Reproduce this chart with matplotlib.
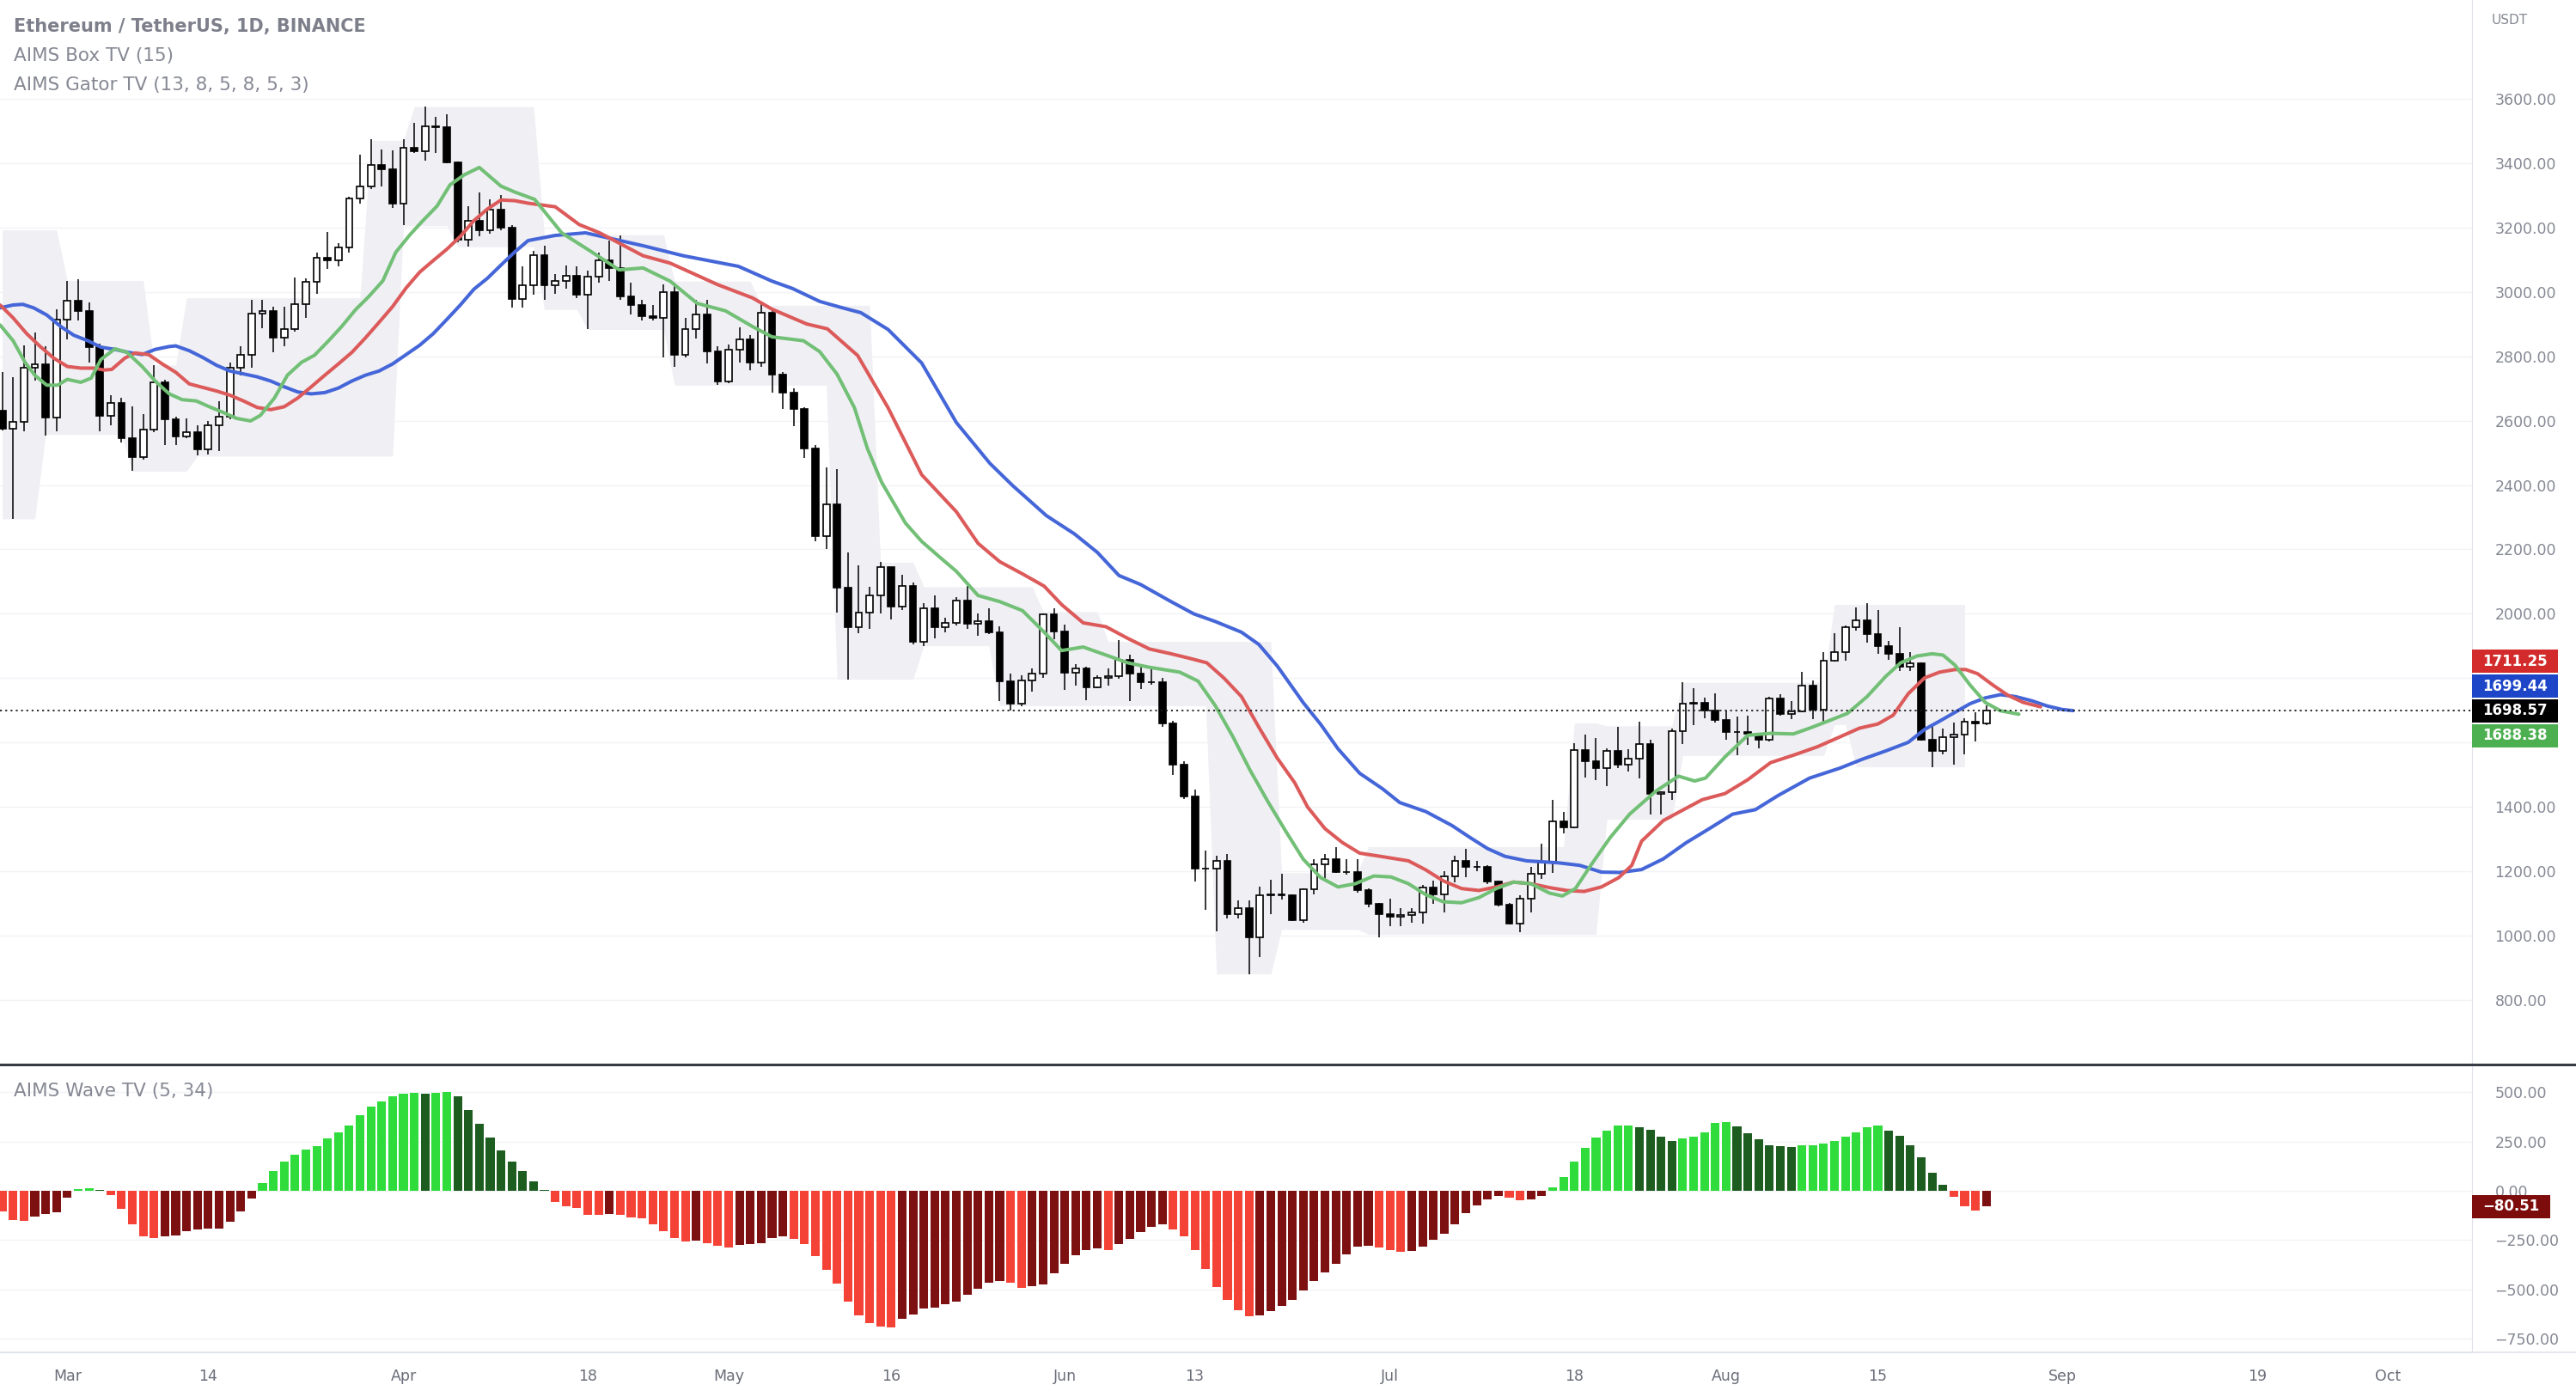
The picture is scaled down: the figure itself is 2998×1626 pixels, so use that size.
import numpy as np
import pandas as pd
import matplotlib
matplotlib.use("Agg")
import matplotlib.pyplot as plt
import matplotlib.transforms as mtransforms
from matplotlib.patches import Rectangle
from matplotlib.lines import Line2D

plt.rcParams['font.family'] = ['DejaVu Sans']

# ______________________________________________________
# _______________________ DATA _________________________

start_date = "2022-02-23"
end_date = "2022-08-25"

opens = [2630, 2576, 2597, 2763, 2775, 2609, 2914, 2972, 2941, 2828, 2616, 2656, 2545, 2487, 2572, 2719, 2603, 2550,
         2563, 2510, 2585, 2612, 2763, 2803, 2932, 2941, 2857, 2883, 2961, 3030, 3106, 3097, 3139, 3290, 3326, 3395,
         3381, 3274, 3448, 3436, 3515, 3510, 3401, 3163, 3221, 3190, 3255, 3199, 2977, 3021, 3114, 3019, 3033, 3050,
         2990, 3048, 3097, 3073, 2985, 2960, 2925, 2920, 2998, 2805, 2883, 2929, 2814, 2721, 2819, 2851, 2779, 2935,
         2744, 2687, 2635, 2513, 2240, 2340, 2080, 1959, 2005, 2057, 2144, 2022, 2086, 1913, 2017, 1959, 1972, 2040,
         1968, 1977, 1942, 1791, 1721, 1792, 1814, 1999, 1944, 1816, 1830, 1773, 1801, 1806, 1857, 1814, 1789, 1789,
         1661, 1532, 1434, 1209, 1208, 1234, 1068, 1085, 996, 1127, 1128, 1125, 1049, 1144, 1223, 1239, 1198, 1198,
         1141, 1099, 1068, 1060, 1066, 1072, 1149, 1130, 1185, 1234, 1213, 1215, 1168, 1096, 1038, 1115, 1192, 1230,
         1356, 1337, 1577, 1543, 1521, 1574, 1533, 1550, 1596, 1442, 1447, 1636, 1721, 1724, 1699, 1670, 1632, 1632,
         1627, 1608, 1738, 1690, 1698, 1777, 1703, 1854, 1881, 1958, 1981, 1937, 1901, 1876, 1836, 1846, 1610, 1574,
         1617, 1626, 1665, 1661]
highs = [2750, 2736, 2834, 2874, 2830, 2945, 3034, 3039, 2968, 2840, 2679, 2670, 2643, 2620, 2772, 2728, 2612, 2608,
         2585, 2599, 2661, 2781, 2830, 2976, 2976, 2954, 2954, 3045, 3042, 3123, 3187, 3150, 3294, 3426, 3475, 3442,
         3439, 3475, 3525, 3575, 3543, 3550, 3405, 3266, 3308, 3288, 3301, 3208, 3079, 3128, 3143, 3056, 3082, 3079,
         3065, 3123, 3160, 3174, 3027, 2975, 2958, 3022, 3027, 2918, 2975, 2975, 2831, 2837, 2889, 2866, 2964, 2946,
         2750, 2699, 2641, 2525, 2455, 2450, 2190, 2150, 2085, 2161, 2144, 2120, 2097, 2034, 2057, 1988, 2051, 2086,
         2000, 2016, 1960, 1814, 1809, 1830, 2002, 2016, 1967, 1843, 1835, 1810, 1830, 1918, 1873, 1840, 1835, 1801,
         1667, 1543, 1454, 1266, 1249, 1253, 1111, 1110, 1154, 1173, 1192, 1130, 1148, 1238, 1255, 1276, 1237, 1237,
         1148, 1103, 1115, 1086, 1087, 1159, 1172, 1201, 1248, 1269, 1234, 1220, 1172, 1101, 1126, 1214, 1287, 1423,
         1386, 1598, 1625, 1614, 1582, 1650, 1580, 1665, 1610, 1450, 1643, 1787, 1768, 1741, 1754, 1700, 1681, 1685,
         1628, 1743, 1750, 1730, 1819, 1792, 1881, 1940, 1963, 2019, 2032, 2012, 1916, 1958, 1881, 1850, 1658, 1645,
         1663, 1676, 1694, 1716]
lows = [2570, 2296, 2567, 2723, 2554, 2567, 2852, 2910, 2781, 2567, 2585, 2532, 2443, 2478, 2564, 2523, 2523, 2545,
        2492, 2496, 2505, 2603, 2741, 2763, 2888, 2812, 2830, 2875, 2919, 2994, 3070, 3079, 3123, 3274, 3320, 3328,
        3261, 3208, 3430, 3408, 3430, 3399, 3154, 3141, 3172, 3181, 3190, 2952, 2952, 2992, 2975, 2993, 3010, 2981,
        2883, 3027, 3033, 2975, 2929, 2912, 2912, 2796, 2767, 2796, 2854, 2777, 2710, 2716, 2779, 2756, 2767, 2687,
        2635, 2583, 2484, 2225, 2202, 2005, 1797, 1941, 1953, 2000, 1982, 2011, 1905, 1901, 1924, 1942, 1965, 1953,
        1931, 1936, 1729, 1700, 1714, 1758, 1800, 1920, 1763, 1777, 1733, 1768, 1777, 1799, 1728, 1766, 1780, 1650,
        1499, 1424, 1168, 1082, 1015, 1053, 1053, 881, 934, 1068, 1113, 1046, 1041, 1129, 1177, 1195, 1189, 1135,
        1090, 995, 1029, 1030, 1040, 1038, 1100, 1072, 1167, 1181, 1201, 1160, 1092, 1035, 1011, 1073, 1177, 1196,
        1318, 1334, 1492, 1485, 1466, 1522, 1510, 1489, 1378, 1378, 1423, 1596, 1654, 1676, 1663, 1610, 1561, 1592,
        1583, 1605, 1685, 1672, 1694, 1672, 1663, 1851, 1854, 1949, 1910, 1876, 1857, 1823, 1823, 1607, 1525, 1563,
        1531, 1565, 1605, 1654]
closes = [2576, 2597, 2763, 2775, 2609, 2914, 2972, 2941, 2828, 2616, 2656, 2545, 2487, 2572, 2719, 2603, 2550, 2563,
          2510, 2585, 2612, 2763, 2803, 2932, 2941, 2857, 2883, 2961, 3030, 3106, 3097, 3139, 3290, 3326, 3395, 3381,
          3274, 3448, 3436, 3515, 3510, 3401, 3163, 3221, 3190, 3255, 3199, 2977, 3021, 3114, 3019, 3033, 3050, 2990,
          3048, 3097, 3073, 2985, 2960, 2925, 2920, 2998, 2805, 2883, 2929, 2814, 2721, 2819, 2851, 2779, 2935, 2744,
          2687, 2635, 2513, 2240, 2340, 2080, 1959, 2005, 2057, 2144, 2022, 2086, 1913, 2017, 1959, 1972, 2040, 1968,
          1977, 1942, 1791, 1721, 1792, 1814, 1999, 1944, 1816, 1830, 1773, 1801, 1806, 1857, 1814, 1789, 1789, 1661,
          1532, 1434, 1209, 1208, 1234, 1068, 1085, 996, 1127, 1128, 1125, 1049, 1144, 1223, 1239, 1198, 1198, 1141,
          1099, 1068, 1060, 1066, 1072, 1149, 1130, 1185, 1234, 1213, 1215, 1168, 1096, 1038, 1115, 1192, 1230, 1356,
          1337, 1577, 1543, 1521, 1574, 1533, 1550, 1596, 1442, 1447, 1636, 1721, 1724, 1699, 1670, 1632, 1632, 1627,
          1608, 1738, 1690, 1698, 1777, 1703, 1854, 1881, 1958, 1981, 1937, 1901, 1876, 1836, 1846, 1610, 1574, 1617,
          1626, 1665, 1661, 1698.57]

# AIMS Gator lines (days since 1 Mar 2022, price)
lips_x = [-6.2, -5, -3.9, -3, -1.9, -0.9, 0, 1.25, 2.2, 3.1, 4.4, 5.5, 6.9, 8.1, 9.4, 10.6, 11.9, 13.1, 14.4, 15.6,
          16.9, 17.8, 19.1, 20.3, 21.6, 22.8, 24.1, 25.3, 26.6, 27.8, 29.1, 30.3, 31.6, 32.8, 34.1, 35.3, 36.6, 38, 40,
          41.25, 43.1, 45.6, 48.4, 50.9, 53.1, 55.6, 58.1, 60.7, 63.2, 65, 67.9, 69.4, 71, 72.6, 73.8, 75.1, 77.3, 78.8,
          80.4, 82, 84, 86, 88.1, 90.1, 91.7, 93.7, 95.8, 97.8, 99.8, 102.6, 104.3, 105.9, 107.5, 109.1, 110.7, 112.4,
          114, 115.6, 117.2, 118.8, 120.5, 122.1, 123.7, 125.3, 126.9, 128.6, 130.2, 131.8, 133.4, 135, 136.7, 137.9,
          139.1, 140.7, 142.3, 144.1, 146.5, 148.6, 150.1, 151.1, 152.9, 155, 157.1, 159.2, 160.7, 162.1, 164.2, 166,
          167.7, 169.1, 170.6, 172, 173, 174.1, 175.5, 176.9, 178.3, 180]
lips_y = [2897, 2848, 2781, 2741, 2710, 2710, 2728, 2719, 2732, 2790, 2823, 2812, 2768, 2723, 2683, 2665, 2661, 2643,
          2625, 2607, 2599, 2616, 2670, 2741, 2781, 2803, 2848, 2892, 2945, 2985, 3034, 3123, 3177, 3221, 3266, 3332,
          3363, 3386, 3328, 3310, 3287, 3183, 3123, 3068, 3074, 3033, 2964, 2941, 2892, 2860, 2848, 2814, 2744, 2640,
          2513, 2409, 2282, 2225, 2178, 2132, 2057, 2038, 2010, 1943, 1886, 1897, 1872, 1848, 1834, 1819, 1791, 1714,
          1619, 1514, 1419, 1324, 1238, 1181, 1152, 1162, 1186, 1183, 1162, 1128, 1106, 1103, 1119, 1147, 1167, 1162,
          1133, 1124, 1147, 1228, 1305, 1378, 1449, 1496, 1481, 1490, 1556, 1623, 1629, 1627, 1645, 1663, 1691, 1743,
          1805, 1848, 1869, 1876, 1872, 1841, 1779, 1725, 1699, 1688.38]

teeth_x = [-6.2, -5, -3.75, -2.5, -1.25, 0, 1.25, 2.5, 3.4, 4.1, 5.3, 6.25, 7.5, 8.75, 10, 11.25, 12.5, 13.75, 15,
           16.25, 17.5, 18.75, 20, 21.25, 22.5, 23.75, 25, 26.25, 27.5, 28.75, 30, 31.25, 32.5, 33.75, 35, 36.25,
           37.5, 38.75, 40, 41.25, 42.5, 45, 47.2, 49.1, 53.1, 55.6, 60, 63.2, 65, 68.2, 70.1, 72.9, 75.7, 78.8, 82,
           84, 86, 88.1, 90.1, 91.7, 93.7, 95.8, 97.8, 99.8, 101.8, 103.5, 105.1, 106.7, 108.3, 109.9, 111.6, 113.2,
           114.4, 116, 117.6, 119.2, 121.3, 123.7, 125.3, 126.9, 128.6, 130.2, 131.8, 133.4, 135, 136.7, 138.3,
           139.9, 141.5, 143.1, 144.3, 145.2, 147.2, 148.3, 150.8, 152.9, 155, 157.1, 159.2, 161.4, 163.5, 165.3,
           167, 168.4, 169.8, 171.3, 172.7, 174.1, 175.1, 176.2, 177.6, 179, 180.4, 182]
teeth_y = [2959, 2919, 2870, 2830, 2794, 2768, 2763, 2763, 2757, 2759, 2794, 2810, 2805, 2776, 2750, 2714, 2703, 2692,
           2679, 2661, 2641, 2634, 2643, 2670, 2705, 2741, 2776, 2812, 2857, 2905, 2954, 3012, 3061, 3097, 3132, 3172,
           3221, 3257, 3285, 3283, 3275, 3264, 3209, 3183, 3112, 3089, 3022, 2981, 2946, 2900, 2885, 2802, 2640, 2432,
           2317, 2219, 2162, 2124, 2086, 2029, 1972, 1960, 1924, 1891, 1876, 1862, 1848, 1800, 1743, 1648, 1552, 1476,
           1400, 1333, 1290, 1257, 1246, 1233, 1205, 1171, 1147, 1141, 1152, 1167, 1162, 1150, 1141, 1138, 1152, 1181,
           1219, 1294, 1358, 1378, 1423, 1442, 1485, 1538, 1561, 1587, 1618, 1645, 1658, 1685, 1752, 1801, 1819, 1827,
           1827, 1814, 1779, 1747, 1725, 1711.25]

jaw_x = [-6.2, -5, -4.1, -3.1, -1.9, -0.6, 0.6, 1.9, 3.1, 4.4, 5.6, 6.9, 8.1, 9.4, 10, 11.25, 12.5, 13.75, 15, 16.25,
         17.5, 18.75, 20, 21.25, 22.5, 23.75, 25, 26.25, 27.5, 28.75, 30, 31.25, 32.5, 33.75, 35, 36.25, 37.5, 38.75,
         40, 41.25, 42.5, 45, 47.8, 53.1, 56.8, 61.9, 65, 66.9, 69.4, 71.3, 73.2, 75.7, 78.8, 82, 85.1, 87.2, 90.3,
         92.9, 95, 97, 99, 101.8, 103.9, 105.9, 108.3, 109.9, 111.6, 114, 115.6, 117.2, 119.2, 121.3, 122.9, 125.3,
         127.7, 129.4, 131, 132.6, 134.6, 137.5, 139.5, 141.5, 143.2, 145.2, 147.2, 149.3, 151.3, 153.6, 155.7, 157.8,
         160.7, 163.5, 165.6, 167.7, 169.8, 171.3, 172.7, 174.1, 175.5, 176.9, 178.3, 179.7, 181.2, 182.6, 184, 185]
jaw_y = [2950, 2959, 2961, 2950, 2928, 2892, 2865, 2848, 2828, 2821, 2812, 2805, 2821, 2830, 2832, 2817, 2796, 2772,
         2754, 2745, 2736, 2723, 2705, 2689, 2683, 2687, 2701, 2723, 2741, 2754, 2776, 2805, 2834, 2870, 2914, 2959,
         3008, 3042, 3083, 3123, 3159, 3175, 3183, 3143, 3112, 3079, 3033, 3010, 2970, 2952, 2935, 2883, 2779, 2594,
         2467, 2398, 2305, 2248, 2191, 2119, 2091, 2038, 2000, 1976, 1943, 1905, 1838, 1724, 1657, 1581, 1505, 1457,
         1414, 1386, 1343, 1305, 1271, 1247, 1233, 1227, 1219, 1198, 1197, 1206, 1239, 1289, 1330, 1378, 1392, 1436,
         1490, 1521, 1549, 1574, 1601, 1641, 1667, 1694, 1721, 1739, 1749, 1743, 1730, 1714, 1703, 1699.44]

# AIMS Box (15): first day of each box, its top and bottom, last day drawn
box_start = [-6, -2, 0, 6, 8, 11, 12, 28, 31, 32, 36, 44, 48, 56, 64, 71, 75, 79, 86, 90, 96, 106, 112, 120, 139,
             142, 149, 163, 165]
box_top = [3192, 3192, 3035, 3035, 2773, 2981, 2981, 3470, 3470, 3575, 3575, 3174, 3177, 3033, 2958, 2958, 2160,
           2084, 2084, 2007, 1914, 1914, 1196, 1277, 1661, 1652, 1787, 2029, 2029]
box_bot = [2295, 2557, 2557, 2443, 2443, 2443, 2490, 2490, 3205, 3205, 3140, 2945, 2883, 2710, 2710, 1797, 1797,
           1901, 1715, 1715, 1715, 882, 1020, 1005, 1005, 1362, 1560, 1656, 1525]
box_last = 175

# AIMS Wave (5, 34), one value per candle
wave_vals = [-106, -150, -152, -131, -118, -111, -35, 10, 12, 4, -23, -93, -172, -233, -241, -233, -226, -204, -195,
             -192, -190, -155, -106, -41, 41, 102, 146, 184, 207, 225, 264, 295, 330, 382, 426, 452, 477, 491, 496,
             491, 495, 502, 477, 408, 338, 268, 203, 146, 98, 50, 6, -58, -80, -89, -121, -124, -118, -124, -133,
             -140, -172, -206, -238, -255, -252, -264, -277, -286, -274, -272, -264, -238, -233, -245, -268, -332,
             -402, -471, -561, -631, -671, -687, -691, -647, -627, -599, -592, -577, -561, -525, -496, -467, -458,
             -468, -492, -485, -474, -420, -369, -328, -299, -293, -299, -271, -246, -211, -181, -168, -194, -233,
             -299, -395, -490, -553, -604, -636, -631, -609, -583, -555, -507, -456, -413, -372, -324, -284, -277,
             -289, -299, -310, -306, -284, -249, -216, -168, -114, -74, -45, -28, -36, -50, -45, -28, 19, 71, 146,
             217, 268, 303, 330, 332, 324, 308, 273, 251, 264, 273, 295, 343, 350, 325, 290, 260, 233, 225, 224, 229,
             233, 238, 251, 273, 295, 321, 330, 303, 277, 229, 172, 93, 32, -32, -80, -102, -80.51]

price_grid = [800, 1000, 1200, 1400, 1600, 1800, 2000, 2200, 2400, 2600, 2800, 3000, 3200, 3400, 3600]
# 1600 / 1800 sit under the value labels, so they are not printed
price_ticks = [800, 1000, 1200, 1400, 2000, 2200, 2400, 2600, 2800, 3000, 3200, 3400, 3600]
wave_ticks = [-750, -500, -250, 0, 250, 500]
tick_dates = ["2022-03-01", "2022-03-14", "2022-04-01", "2022-04-18", "2022-05-01", "2022-05-16", "2022-06-01",
              "2022-06-13", "2022-07-01", "2022-07-18", "2022-08-01", "2022-08-15", "2022-09-01", "2022-09-19",
              "2022-10-01"]
tick_labels = ["Mar", "14", "Apr", "18", "May", "16", "Jun", "13", "Jul", "18", "Aug", "15", "Sep", "19", "Oct"]

# ______________________________________________________
# _____________________ FIGURE _________________________

W, H = 2998, 1626
fig = plt.figure(figsize=(W / 100, H / 100), dpi=100)
fig.patch.set_facecolor("white")


def px_rect(x0, y0, x1, y1):
    return [x0 / W, 1 - y1 / H, (x1 - x0) / W, (y1 - y0) / H]


ax = fig.add_axes(px_rect(0, 0, 2877, 1237))
axo = fig.add_axes(px_rect(0, 1240, 2877, 1574))

ref = pd.Timestamp("2022-03-01")
dates = pd.date_range(start_date, end_date, freq="D")
x = np.asarray((dates - ref).days, dtype=float)
o, hi, lo, c = (np.array(v, dtype=float) for v in (opens, highs, lows, closes))

GRID = "#f2f3f6"
TXT = "#858893"

# ---- price panel ----
ax.set_xlim(-6.21, 221.8)
ax.set_ylim(606, 3906)
for yv in price_grid:
    ax.axhline(yv, color=GRID, lw=1, zorder=0)

# box
bx = np.arange(box_start[0], box_last + 1)
bi = np.searchsorted(box_start, bx, side="right") - 1
ax.fill_between(bx, np.array(box_bot)[bi], np.array(box_top)[bi], color="#efeff4", lw=0, zorder=1)

# candles
up = c >= o
ax.vlines(x, lo, hi, color="black", lw=1.1, zorder=3)
body_lo = np.minimum(o, c)
body_h = np.abs(c - o)
ax.bar(x[up], body_h[up], 0.62, bottom=body_lo[up], color="white", edgecolor="black", lw=1.2, zorder=4)
ax.bar(x[~up], body_h[~up], 0.62, bottom=body_lo[~up], color="black", edgecolor="black", lw=1.2, zorder=4)

# gator
ax.plot(jaw_x, jaw_y, color="#4566d8", lw=2.9, zorder=5, solid_capstyle="round", solid_joinstyle="round")
ax.plot(teeth_x, teeth_y, color="#dc5a5a", lw=2.9, zorder=5, solid_capstyle="round", solid_joinstyle="round")
ax.plot(lips_x, lips_y, color="#72bf76", lw=2.9, zorder=5, solid_capstyle="round", solid_joinstyle="round")

# last price line
ax.axhline(closes[-1], color="#1a1a1a", lw=1.3, ls=(0, (1.2, 2.2)), zorder=6)

ax.yaxis.tick_right()
ax.set_yticks(price_ticks)
ax.set_yticklabels([f"{v:.2f}" for v in price_ticks])
ax.set_xticks([])
ax.tick_params(axis="y", length=0, pad=19, labelsize=12.5, labelcolor=TXT)
for s in ("top", "left", "bottom"):
    ax.spines[s].set_visible(False)
ax.spines["right"].set_color("#e0e3eb")

# ---- wave panel ----
axo.set_xlim(-6.21, 221.8)
axo.set_ylim(-819, 636)
for yv in wave_ticks:
    axo.axhline(yv, color=GRID, lw=1, zorder=0)

wave = np.array(wave_vals, dtype=float)
prev = np.r_[np.inf, wave[:-1]]
rising = wave > prev
bar_cols = np.where(wave >= 0,
                    np.where(rising, "#2fdc3c", "#1d5e20"),
                    np.where(rising, "#7d1010", "#f44336"))
axo.bar(x, wave, 0.8, color=bar_cols, lw=0, zorder=2)

axo.yaxis.tick_right()
axo.set_yticks(wave_ticks)
axo.set_yticklabels([f"{v:.2f}".replace("-", "\u2212") for v in wave_ticks])
axo.set_xticks((pd.to_datetime(tick_dates) - ref).days)
axo.set_xticklabels(tick_labels)
axo.tick_params(axis="y", length=0, pad=19, labelsize=12.5, labelcolor=TXT)
axo.tick_params(axis="x", length=0, pad=14, labelsize=12.5, labelcolor="#6a6d78")
for s in ("top", "left"):
    axo.spines[s].set_visible(False)
axo.spines["right"].set_color("#e0e3eb")
axo.spines["bottom"].set_color("#e0e3eb")

# separators
fig.add_artist(Line2D([0, 1], [1 - 1238.5 / H] * 2, color="#363a45", lw=2.2))
fig.add_artist(Line2D([0, 1], [1 - 1574 / H] * 2, color="#e0e3eb", lw=1.2))


# ---- right side value labels ----
def side_label(axis, yval, text, fc, height, width_px=100):
    tr = mtransforms.blended_transform_factory(fig.transFigure, axis.transData)
    x0 = 2877 / W
    axis.add_patch(Rectangle((x0, yval - height / 2), width_px / W, height, transform=tr,
                             facecolor=fc, edgecolor="none", clip_on=False, zorder=10))
    axis.text(x0 + width_px / W / 2, yval, text, transform=tr, ha="center", va="center",
              color="white", fontsize=12, fontweight="bold", clip_on=False, zorder=11)


step = 77
last = closes[-1]
side_label(ax, last + 2 * step, f"{teeth_y[-1]:.2f}", "#d32b2b", 72)
side_label(ax, last + step, f"{jaw_y[-1]:.2f}", "#1d45c8", 72)
side_label(ax, last, f"{last:.2f}", "#000000", 72)
side_label(ax, last - step, f"{lips_y[-1]:.2f}", "#4caf50", 72)
side_label(axo, wave_vals[-1], f"{wave_vals[-1]:.2f}".replace("-", "\u2212"), "#7d0c0c", 118, 91)

# ---- legend texts ----
fig.text(16 / W, 1 - 31 / H, "Ethereum / TetherUS, 1D, BINANCE", fontsize=15, fontweight="bold",
         color="#7d808b", va="center")
fig.text(16 / W, 1 - 65 / H, "AIMS Box TV (15)", fontsize=15.5, color=TXT, va="center")
fig.text(16 / W, 1 - 99 / H, "AIMS Gator TV (13, 8, 5, 8, 5, 3)", fontsize=15.5, color=TXT, va="center")
fig.text(16 / W, 1 - 1270 / H, "AIMS Wave TV (5, 34)", fontsize=15.5, color=TXT, va="center")
fig.text(2921 / W, 1 - 23 / H, "USDT", fontsize=11, color=TXT, ha="center", va="center")

fig.savefig("out.png", dpi=100, facecolor="white")
